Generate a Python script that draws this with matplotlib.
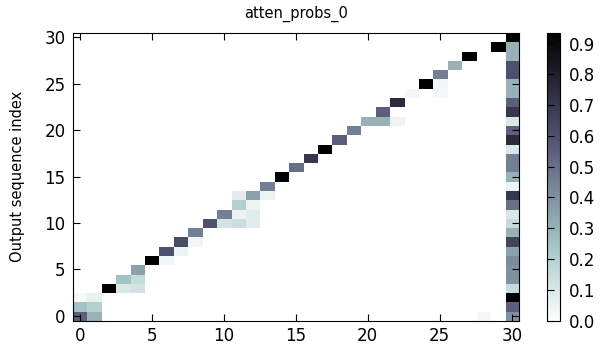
"""Attention heat map (atten_probs_0), headless Agg backend."""

import matplotlib

matplotlib.use("Agg")
import matplotlib.pyplot as plt  # noqa: E402
import numpy as np  # noqa: E402

N = 31

# attention on the last input position (column 30), rows 0..30
last_col = [
    0.40, 0.55, 0.93, 0.15, 0.40, 0.40, 0.42, 0.35, 0.65, 0.30,
    0.15, 0.10, 0.50, 0.70, 0.05, 0.30, 0.45, 0.45, 0.10, 0.75,
    0.55, 0.10, 0.70, 0.55, 0.30, 0.30, 0.60, 0.60, 0.30, 0.30,
    0.935,
]

# other non-zero cells: output row, input column, probability
cell_rows = [0, 0, 1, 1, 2, 2, 3, 3, 3, 4, 4, 5, 6, 6, 7, 7, 8, 8, 9,
             10, 10, 10, 10, 11, 11, 11, 12, 12, 13, 13, 13, 14, 15, 16,
             17, 18, 19, 20, 21, 21, 21, 22, 23, 24, 24, 25, 25, 26, 27,
             28, 29, 0]
cell_cols = [0, 1, 0, 1, 1, 0, 2, 3, 4, 3, 4, 4, 5, 6, 6, 7, 7, 8, 8,
             9, 10, 11, 12, 10, 11, 12, 11, 12, 12, 11, 13, 13, 14, 15,
             16, 17, 18, 19, 20, 21, 22, 21, 22, 23, 25, 24, 25, 25, 26,
             27, 29, 28]
cell_vals = [0.55, 0.30, 0.25, 0.20, 0.06, 0.03, 0.935, 0.10, 0.12, 0.25,
             0.15, 0.35, 0.935, 0.04, 0.60, 0.05, 0.62, 0.04, 0.45,
             0.60, 0.12, 0.14, 0.08, 0.45, 0.05, 0.08, 0.20, 0.05, 0.35,
             0.08, 0.05, 0.45, 0.935, 0.50, 0.70, 0.935, 0.55, 0.45, 0.30,
             0.30, 0.05, 0.55, 0.75, 0.03, 0.03, 0.935, 0.04, 0.45, 0.30,
             0.935, 0.935, 0.03]

probs = np.zeros((N, N))
probs[:, N - 1] = last_col
probs[cell_rows, cell_cols] = cell_vals

plt.rcParams.update({
    "xtick.direction": "in",
    "ytick.direction": "in",
    "xtick.top": True,
    "ytick.right": True,
    "xtick.major.size": 5,
    "ytick.major.size": 5,
})

fig = plt.figure(figsize=(6, 3.45), dpi=100)
ax = fig.add_axes([0.121, 0.071, 0.744, 0.834])
cax = fig.add_axes([0.912, 0.071, 0.022, 0.834])

im = ax.imshow(probs, cmap="bone_r", origin="lower", aspect="auto",
               interpolation="nearest", vmin=0.0, vmax=probs.max())
ax.set_xlim(-0.5, N - 0.5)
ax.set_ylim(-0.5, N - 0.5)
ax.set_xticks(range(0, N, 5))
ax.set_yticks(range(0, N, 5))
ax.tick_params(labelsize=12, pad=5)
ax.set_title("atten_probs_0", fontsize=10.5, pad=11)
ax.set_ylabel("Output sequence index", fontsize=10.5, labelpad=14)

cb = fig.colorbar(im, cax=cax, ticks=np.arange(0, 0.95, 0.1))
cb.ax.set_yticklabels([f"{t:.1f}" for t in np.arange(0, 0.95, 0.1)])
cb.ax.tick_params(labelsize=12, direction="in", left=True, right=False,
                  length=5, pad=6)

fig.savefig("out.png", dpi=100)
plt.close(fig)
